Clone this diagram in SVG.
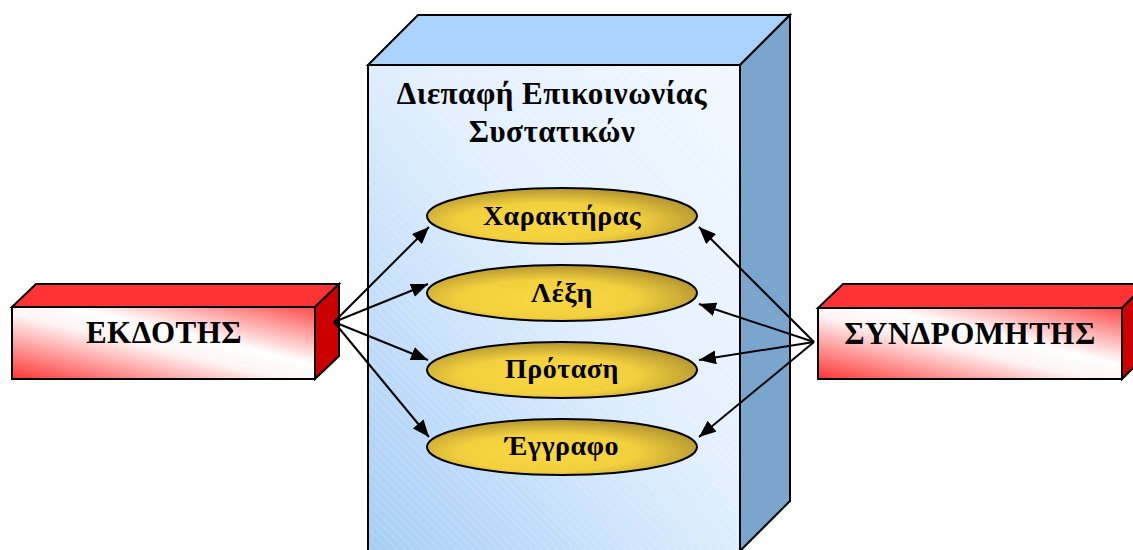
<svg xmlns="http://www.w3.org/2000/svg" width="1133" height="550" viewBox="0 0 1133 550">
  <defs>
    <style>
      .edge { stroke: #000; stroke-width: 2; stroke-linejoin: miter; }
      .lbl { font-family: "Liberation Serif", "Times New Roman", serif; font-weight: bold; fill: #000; text-anchor: middle; letter-spacing: 0.5px; }
      .title { font-size: 31px; }
      .actor { font-size: 31px; }
      .uc { font-size: 28px; }
      .conn { stroke: #000; stroke-width: 2; fill: none; marker-end: url(#arrow); }
    </style>
    <!-- front face of the central component box -->
    <linearGradient id="blueFront" x1="0" y1="1" x2="1" y2="0">
      <stop offset="0" stop-color="#a6cdf6"/>
      <stop offset="0.55" stop-color="#e2f0fe"/>
      <stop offset="1" stop-color="#f2f8ff"/>
    </linearGradient>
    <pattern id="hatch" width="6" height="6" patternUnits="userSpaceOnUse" patternTransform="rotate(-45)">
      <line x1="0" y1="0" x2="0" y2="6" stroke="#ffffff" stroke-width="1" stroke-opacity="0.35"/>
    </pattern>
    <!-- front face of the red actor boxes -->
    <linearGradient id="redFront" x1="0" y1="1" x2="1" y2="0">
      <stop offset="0" stop-color="#ff3333"/>
      <stop offset="0.45" stop-color="#fff4f4"/>
      <stop offset="0.6" stop-color="#ffffff"/>
      <stop offset="1" stop-color="#ff4a4a"/>
    </linearGradient>
    <!-- yellow use-case ellipses -->
    <radialGradient id="gold" cx="0.45" cy="0.6" r="0.6">
      <stop offset="0" stop-color="#f8d840"/>
      <stop offset="0.55" stop-color="#f2d03e"/>
      <stop offset="1" stop-color="#b39530"/>
    </radialGradient>
    <marker id="arrow" viewBox="0 0 17 14" refX="17" refY="7" markerWidth="17" markerHeight="14" markerUnits="userSpaceOnUse" orient="auto">
      <path d="M0,0 L17,7 L0,14 z" fill="#000"/>
    </marker>
  </defs>

  <!-- central box: component communication interface -->
  <g id="interface">
    <polygon points="368,65 418,15 790,15 740,65" fill="#aad4fb" class="edge"/>
    <polygon points="740,65 790,15 790,501 740,551" fill="#7aa5cd" class="edge"/>
    <rect x="368" y="65" width="372" height="490" fill="url(#blueFront)" class="edge"/>
    <rect x="369" y="66" width="370" height="488" fill="url(#hatch)"/>
    <text class="lbl title" x="552" y="104">Διεπαφή Επικοινωνίας</text>
    <text class="lbl title" x="552" y="142">Συστατικών</text>
  </g>

  <!-- publisher -->
  <g id="publisher">
    <polygon points="12,307 36,284 339,284 315,307" fill="#ff3333" class="edge"/>
    <polygon points="315,307 339,284 339,356 315,379" fill="#cc0000" class="edge"/>
    <rect x="12" y="307" width="303" height="72" fill="url(#redFront)" class="edge"/>
    <text class="lbl actor" x="164" y="343">ΕΚΔΟΤΗΣ</text>
  </g>

  <!-- subscriber -->
  <g id="subscriber">
    <polygon points="818,308 843,284 1146,284 1122,308" fill="#ff3333" class="edge"/>
    <polygon points="1122,308 1146,284 1146,355 1122,379" fill="#cc0000" class="edge"/>
    <rect x="818" y="308" width="304" height="71" fill="url(#redFront)" class="edge"/>
    <text class="lbl actor" x="970" y="344">ΣΥΝΔΡΟΜΗΤΗΣ</text>
  </g>

  <!-- use cases -->
  <g id="uc-character">
    <ellipse cx="562" cy="216" rx="135" ry="28" fill="url(#gold)" class="edge"/>
    <text class="lbl uc" x="562" y="225">Χαρακτήρας</text>
  </g>
  <g id="uc-word">
    <ellipse cx="562" cy="293" rx="135" ry="28" fill="url(#gold)" class="edge"/>
    <text class="lbl uc" x="562" y="302">Λέξη</text>
  </g>
  <g id="uc-sentence">
    <ellipse cx="562" cy="370" rx="135" ry="28" fill="url(#gold)" class="edge"/>
    <text class="lbl uc" x="562" y="378">Πρόταση</text>
  </g>
  <g id="uc-document">
    <ellipse cx="562" cy="447" rx="135" ry="28" fill="url(#gold)" class="edge"/>
    <text class="lbl uc" x="562" y="455">Έγγραφο</text>
  </g>

  <!-- connectors -->
  <g id="connectors">
    <line class="conn" x1="334" y1="322" x2="429" y2="227"/>
    <line class="conn" x1="334" y1="322" x2="428" y2="284"/>
    <line class="conn" x1="334" y1="322" x2="428" y2="360"/>
    <line class="conn" x1="334" y1="322" x2="429" y2="437"/>
    <line class="conn" x1="814" y1="342" x2="699" y2="227"/>
    <line class="conn" x1="814" y1="342" x2="699" y2="304"/>
    <line class="conn" x1="814" y1="342" x2="699" y2="360"/>
    <line class="conn" x1="814" y1="342" x2="699" y2="437"/>
  </g>
</svg>
